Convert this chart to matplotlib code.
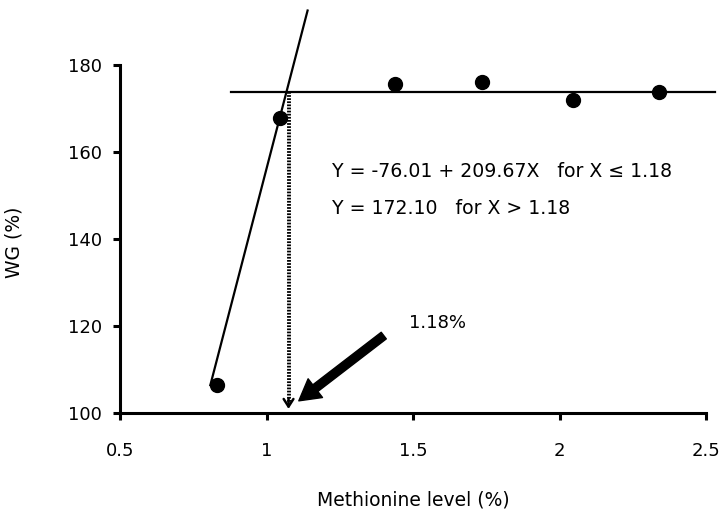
import numpy as np
import matplotlib.pyplot as plt

# data
met_level = [0.83, 1.045, 1.44, 1.735, 2.045, 2.34]
wg = [106.4, 167.7, 175.7, 176.1, 172.0, 173.8]

# fitted broken line as drawn
rise_x = [0.808, 1.140]
rise_y = [106.4, 192.5]
plateau_x = [0.877, 2.53]
plateau_y = [173.8, 173.8]
breakpoint_x = 1.075

x_ticks = [0.5, 1, 1.5, 2, 2.5]
x_ticklabels = ['0.5', '1', '1.5', '2', '2.5']
y_ticks = [100, 120, 140, 160, 180]

plt.rcParams['font.family'] = ['DejaVu Sans']

fig = plt.figure(figsize=(7.19, 5.15), dpi=100)
ax = fig.add_axes([0.167, 0.198, 0.815, 0.79])

ax.plot(rise_x, rise_y, color='black', lw=1.6, clip_on=False)
ax.plot(plateau_x, plateau_y, color='black', lw=1.6, clip_on=False)
ax.plot(met_level, wg, 'o', color='black', ms=10, clip_on=False, zorder=5)

# dotted drop line with arrow head
ax.plot([breakpoint_x, breakpoint_x], [plateau_y[0], 102.5], color='black',
        lw=2.8, linestyle=(0, (0.45, 0.35)))
ax.annotate('', xy=(breakpoint_x, 100.3), xytext=(breakpoint_x, 104),
            arrowprops=dict(arrowstyle='->,head_length=0.55,head_width=0.35',
                            color='black', lw=1.8))

# big arrow pointing to the breakpoint
ax.annotate('', xy=(1.11, 102.8), xytext=(1.40, 117.8),
            arrowprops=dict(facecolor='black', edgecolor='black', width=6,
                            headwidth=17, headlength=15, shrink=0))
ax.text(1.486, 120.6, '1.18%', fontsize=13, va='center', ha='left')

ax.text(1.225, 155.5, 'Y = -76.01 + 209.67X   for X \u2264 1.18', fontsize=13.6,
        va='center', ha='left')
ax.text(1.225, 146.9, 'Y = 172.10   for X > 1.18', fontsize=13.6,
        va='center', ha='left')

ax.set_xlim(0.5, 2.5)
ax.set_ylim(100, 193.5)
ax.set_xticks(x_ticks)
ax.set_xticklabels(x_ticklabels)
ax.set_yticks(y_ticks)
ax.spines['top'].set_visible(False)
ax.spines['right'].set_visible(False)
ax.spines['left'].set_bounds(100, 180)
ax.spines['left'].set_linewidth(2.2)
ax.spines['bottom'].set_linewidth(2.2)
ax.tick_params(direction='out', length=5, width=2.2, labelsize=13)
ax.tick_params(axis='x', pad=16)
ax.tick_params(axis='y', pad=8)

ax.set_xlabel('Methionine level (%)', fontsize=13.5, labelpad=22)
ax.set_ylabel('WG (%)', fontsize=13.5)
ax.yaxis.set_label_coords(-0.165, 0.42)

fig.savefig('out.png', dpi=100)
